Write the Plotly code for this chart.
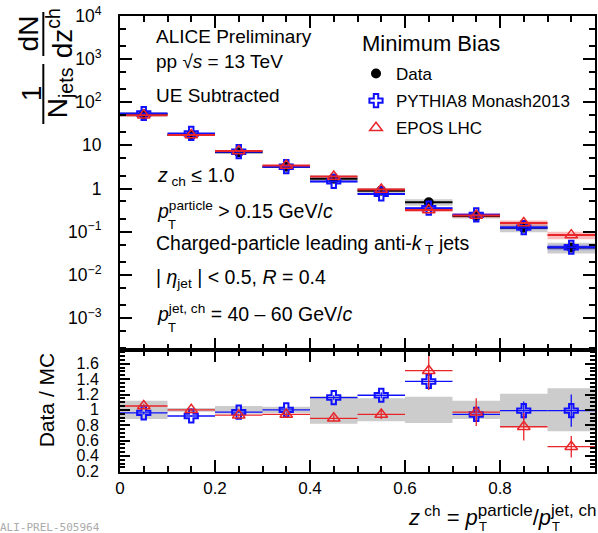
import plotly.graph_objects as go

# ---------------- data ----------------
bin_lo = [0.0, 0.1, 0.2, 0.3, 0.4, 0.5, 0.6, 0.7, 0.8, 0.9]
bin_hi = [0.1, 0.2, 0.3, 0.4, 0.5, 0.6, 0.7, 0.8, 0.9, 1.0]
z_centers = [0.05, 0.15, 0.25, 0.35, 0.45, 0.55, 0.65, 0.75, 0.85, 0.95]
half_width = [0.05] * 10

data_vals = [52.7, 17.4, 6.92, 3.2, 1.69, 0.89, 0.48, 0.23, 0.123, 0.043]
data_syst_rel = [0.12, 0.025, 0.05, 0.04, 0.18, 0.15, 0.17, 0.12, 0.21, 0.28]

pythia_vals = [54.9, 18.9, 7.13, 3.2, 1.46, 0.75, 0.35, 0.245, 0.124, 0.0434]
pythia_rel = [0.01, 0.01, 0.01, 0.01, 0.02, 0.03, 0.06, 0.07, 0.10, 0.15]
epos_vals = [50.2, 17.4, 7.44, 3.40, 1.90, 0.95, 0.318, 0.237, 0.158, 0.083]
epos_rel = [0.01, 0.01, 0.01, 0.02, 0.03, 0.05, 0.10, 0.12, 0.15, 0.20]

ratio_pythia = [0.96, 0.92, 0.97, 1.00, 1.16, 1.19, 1.37, 0.94, 0.99, 0.99]
ratio_pythia_err = [0.02, 0.01, 0.01, 0.02, 0.03, 0.04, 0.10, 0.08, 0.12, 0.21]
ratio_epos = [1.05, 1.00, 0.93, 0.94, 0.89, 0.94, 1.51, 0.97, 0.78, 0.52]
ratio_epos_err = [0.03, 0.02, 0.02, 0.03, 0.04, 0.06, 0.25, 0.18, 0.18, 0.14]

top_tickvals = [1e-3, 1e-2, 1e-1, 1, 10, 1e2, 1e3, 1e4]
top_ticktext = ["10<sup>\u22123</sup>", "10<sup>\u22122</sup>", "10<sup>\u22121</sup>", "1", "10",
                "10<sup>2</sup>", "10<sup>3</sup>", "10<sup>4</sup>"]
ratio_tickvals = [0.2, 0.4, 0.6, 0.8, 1.0, 1.2, 1.4, 1.6]
ratio_ticktext = ["0.2", "0.4", "0.6", "0.8", "1", "1.2", "1.4", "1.6"]
x_tickvals = [0, 0.2, 0.4, 0.6, 0.8, 1.0]
x_ticktext = ["0", "0.2", "0.4", "0.6", "0.8", "1"]

# ---------------- styling ----------------
FONT = "Liberation Sans, Arial, Helvetica, sans-serif"
BLUE = "#1010ff"
RED = "#e8262a"
GREY = "#cccccc"
LIGHT_BLUE = "rgba(90,90,255,0.40)"
LIGHT_RED = "rgba(240,90,90,0.40)"

W, H = 598, 533
L, R, T, B = 120, 597, 16, 472


def px(x):
    return (x - L) / (R - L)


def py(y):
    return (B - y) / (B - T)


def boxes(lo, hi, ylo, yhi):
    xs, ys = [], []
    for a, b, c, d in zip(lo, hi, ylo, yhi):
        xs += [a, b, b, a, a, None]
        ys += [c, c, d, d, c, None]
    return xs, ys


fig = go.Figure()

# ---------------- top panel ----------------
bx, by = boxes(bin_lo, bin_hi,
               [v * (1 - s) for v, s in zip(data_vals, data_syst_rel)],
               [v * (1 + s) for v, s in zip(data_vals, data_syst_rel)])
fig.add_trace(go.Scatter(x=bx, y=by, fill="toself", fillcolor=GREY, mode="lines",
                         line=dict(width=0), showlegend=False, hoverinfo="skip",
                         xaxis="x", yaxis="y"))
for vals, rel, col in [(pythia_vals, pythia_rel, LIGHT_BLUE), (epos_vals, epos_rel, LIGHT_RED)]:
    mx, my = boxes(bin_lo, bin_hi,
                   [v * (1 - max(r, 0.03)) for v, r in zip(vals, rel)],
                   [v * (1 + max(r, 0.03)) for v, r in zip(vals, rel)])
    fig.add_trace(go.Scatter(x=mx, y=my, fill="toself", fillcolor=col, mode="lines",
                             line=dict(width=0), showlegend=False, hoverinfo="skip",
                             xaxis="x", yaxis="y"))

fig.add_trace(go.Scatter(
    x=z_centers, y=data_vals, mode="markers", name="Data",
    marker=dict(symbol="circle", size=10, color="black"),
    error_x=dict(type="data", array=half_width, thickness=2, width=0, color="black"),
    legendgroup="g1", xaxis="x", yaxis="y"))
fig.add_trace(go.Scatter(
    x=z_centers, y=pythia_vals, mode="markers", name="PYTHIA8 Monash2013",
    marker=dict(symbol="cross-open", size=11, color=BLUE, line=dict(width=2, color=BLUE)),
    error_x=dict(type="data", array=half_width, thickness=2, width=0, color=BLUE),
    legendgroup="g2", xaxis="x", yaxis="y"))
fig.add_trace(go.Scatter(
    x=z_centers, y=epos_vals, mode="markers", name="EPOS LHC",
    marker=dict(symbol="triangle-up-open", size=11, color=RED, line=dict(width=1.5, color=RED)),
    error_x=dict(type="data", array=half_width, thickness=2, width=0, color=RED),
    legendgroup="g3", xaxis="x", yaxis="y"))

# ---------------- ratio panel ----------------
rx, ry = boxes(bin_lo, bin_hi, [1 - s for s in data_syst_rel], [1 + s for s in data_syst_rel])
fig.add_trace(go.Scatter(x=rx, y=ry, fill="toself", fillcolor=GREY, mode="lines",
                         line=dict(width=0), showlegend=False, hoverinfo="skip",
                         xaxis="x2", yaxis="y2"))
fig.add_trace(go.Scatter(
    x=z_centers, y=ratio_pythia, mode="markers", showlegend=False,
    marker=dict(symbol="cross-open", size=11, color=BLUE, line=dict(width=2, color=BLUE)),
    error_x=dict(type="data", array=half_width, thickness=1.3, width=0, color=BLUE),
    error_y=dict(type="data", array=ratio_pythia_err, thickness=1.3, width=0, color=BLUE),
    xaxis="x2", yaxis="y2"))
fig.add_trace(go.Scatter(
    x=z_centers, y=ratio_epos, mode="markers", showlegend=False,
    marker=dict(symbol="triangle-up-open", size=11, color=RED, line=dict(width=1.5, color=RED)),
    error_x=dict(type="data", array=half_width, thickness=1.3, width=0, color=RED),
    error_y=dict(type="data", array=ratio_epos_err, thickness=1.3, width=0, color=RED),
    xaxis="x2", yaxis="y2"))

split = py(350)
axis_common = dict(showline=True, linecolor="black", linewidth=2, mirror="allticks",
                   ticks="inside", tickcolor="black", tickwidth=1.5, showgrid=False,
                   zeroline=False)

fig.update_layout(
    width=W, height=H, autosize=False,
    margin=dict(l=L, r=W - R, t=T, b=H - B, pad=0),
    paper_bgcolor="white", plot_bgcolor="white",
    font=dict(family=FONT, color="black", size=17),
    xaxis=dict(domain=[0, 1], anchor="y", range=[0, 1], tickvals=x_tickvals,
               showticklabels=False, ticklen=12,
               minor=dict(ticks="inside", dtick=0.05, tick0=0, ticklen=6, tickcolor="black"),
               **axis_common),
    yaxis=dict(domain=[split, 1], anchor="x", type="log", range=[-3.745, 4],
               tickvals=top_tickvals, ticktext=top_ticktext, ticklen=12,
               tickfont=dict(size=17.5), ticklabelstandoff=13,
               minor=dict(ticks="inside", ticklen=6, tickcolor="black"),
               **axis_common),
    xaxis2=dict(domain=[0, 1], anchor="y2", range=[0, 1], matches="x",
                tickvals=x_tickvals, ticktext=x_ticktext, ticklen=12,
                tickfont=dict(size=17), ticklabelstandoff=0,
                minor=dict(ticks="inside", dtick=0.05, tick0=0, ticklen=6, tickcolor="black"),
                **axis_common),
    yaxis2=dict(domain=[0, split], anchor="x2", range=[0.19, 1.78],
                tickvals=ratio_tickvals, ticktext=ratio_ticktext, ticklen=10,
                tickfont=dict(size=16), ticklabelstandoff=16,
                minor=dict(ticks="inside", dtick=0.05, tick0=0, ticklen=5, tickcolor="black"),
                **axis_common),
    legend=dict(x=px(357), y=py(56), xanchor="left", yanchor="top",
                bgcolor="rgba(0,0,0,0)", borderwidth=0,
                font=dict(size=17, family=FONT),
                tracegroupgap=2, itemsizing="trace"),
)

ann = []


def text(x, y, s, size=19, anchor="left", angle=None, color="black", family=FONT):
    d = dict(x=px(x), y=py(y), xref="paper", yref="paper", text=s, showarrow=False,
             xanchor=anchor, yanchor="middle", font=dict(size=size, family=family, color=color))
    if angle is not None:
        d["textangle"] = angle
    ann.append(d)


text(154, 37, "ALICE Preliminary")
text(154, 62, "pp \u221a<i>s</i> = 13 TeV")
text(154, 95, "UE Subtracted")
text(361, 44, "Minimum Bias", size=22)
text(155, 176, "<i>z</i><sub> ch</sub> \u2264 1.0", size=19.5)
text(155, 210, "<i>p</i><sup>particle</sup> > 0.15 GeV/<i>c</i>", size=19.5)
text(166, 224, "T", size=13)
text(154, 244, "Charged-particle leading anti-<i>k</i><sub> T</sub> jets", size=19.5)
text(154, 278, "| <i>\u03b7</i><sub>jet</sub> | < 0.5, <i>R</i> = 0.4", size=19.5)
text(155, 313, "<i>p</i><sup>jet, ch</sup> = 40 \u2013 60 GeV/<i>c</i>", size=19.5)
text(166, 327, "T", size=13)

# y-axis title of top panel (rotated fraction)
text(31, 93, "1", size=28, anchor="center", angle=-90)
text(59, 93, "N<sub>jets</sub>", size=28, anchor="center", angle=-90)
text(29, 33, "dN", size=28, anchor="center", angle=-90)
text(60, 33, "dz<sup>ch</sup>", size=28, anchor="center", angle=-90)
# ratio title
text(46, 400, "Data / MC", size=21, anchor="center", angle=-90)
# x title
text(407, 515,
     "<i>z</i><sup> ch</sup> = <i>p</i><sup><span style=\"font-size:17px\">particle</span></sup>/"
     "<i>p</i><sup><span style=\"font-size:17px\">jet, ch</span></sup>", size=22)
text(479, 526, "T", size=13)
text(552, 526, "T", size=13)
# watermark
text(-3, 527, "ALI-PREL-505964", size=11, color="#aaaaaa", family="DejaVu Sans Mono")

fig.update_layout(annotations=ann)

fig.update_layout(shapes=[
    dict(type="line", xref="paper", yref="paper", x0=px(43), x1=px(43), y0=py(64), y1=py(124),
         line=dict(color="black", width=2)),
    dict(type="line", xref="paper", yref="paper", x0=px(43), x1=px(43), y0=py(12), y1=py(56),
         line=dict(color="black", width=2)),
])

fig.write_html("out.html")
